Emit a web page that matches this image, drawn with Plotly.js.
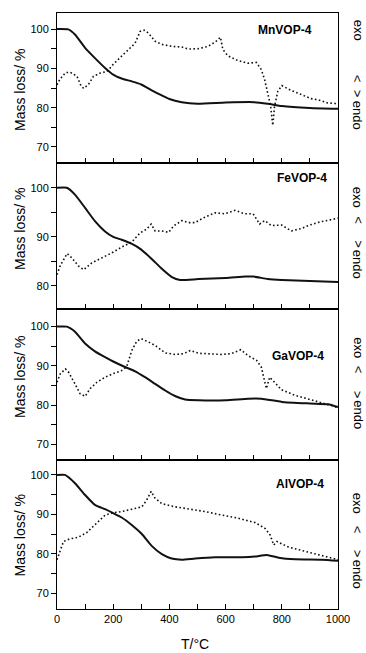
<!DOCTYPE html>
<html>
<head>
<meta charset="utf-8">
<script src="https://cdn.plot.ly/plotly-3.0.1.min.js"></script>
<style>
  html, body { margin: 0; padding: 0; background: #fff; }
  #chart { width: 366px; height: 653px; }
</style>
</head>
<body>
<div id="chart"></div>
<script>
// Thermal analysis of four metal vanadyl phosphates: TG (solid) and DTA (dotted)

const sampleNames = ["MnVOP-4", "FeVOP-4", "GaVOP-4", "AlVOP-4"];

// MnVOP-4
const mnTgT  = [0, 40, 64, 100, 135, 171, 200, 230, 265, 300, 337, 373, 400, 444, 500, 600, 700, 750, 800, 900, 1000];
const mnTg   = [100, 99.9, 98.6, 95.2, 92.6, 90.1, 88.4, 87.4, 86.7, 85.9, 84.4, 83.1, 82.2, 81.4, 81.0, 81.3, 81.4, 81.0, 80.4, 79.9, 79.7];
const mnDtaT = [0, 10, 30, 47, 71, 85, 95, 112, 130, 154, 178, 200, 230, 254, 278, 296, 310, 325, 349, 373, 409, 444, 468, 504, 538, 565, 582, 590, 608, 643, 679, 709, 727, 739, 751, 760, 768, 774, 786, 800, 833, 869, 904, 934, 963, 987, 1000];
const mnDta  = [85.8, 87.2, 88.9, 89.0, 88.0, 85.6, 84.9, 85.9, 88.0, 88.8, 89.2, 91.0, 93.1, 94.8, 96.4, 99.4, 99.7, 99.0, 96.9, 96.1, 95.6, 95.4, 94.9, 95.0, 95.6, 96.8, 97.9, 94.8, 93.2, 92.0, 91.3, 91.5, 89.7, 87.1, 83.5, 80.5, 75.5, 80.3, 84.2, 85.6, 84.4, 83.3, 82.3, 81.9, 81.2, 81.1, 80.9];

// FeVOP-4
const feTgT  = [0, 35, 64, 100, 135, 171, 200, 230, 265, 300, 337, 373, 409, 438, 504, 600, 671, 700, 750, 800, 900, 1000];
const feTg   = [100, 100, 98.6, 95.9, 93.2, 91.1, 90.0, 89.4, 88.6, 87.4, 85.5, 83.5, 81.8, 81.2, 81.4, 81.6, 81.9, 81.9, 81.4, 81.2, 81.0, 80.8];
const feDtaT = [0, 12, 36, 53, 77, 95, 124, 159, 194, 230, 265, 296, 320, 335, 349, 373, 397, 415, 444, 468, 491, 526, 562, 597, 633, 668, 698, 721, 739, 763, 799, 834, 870, 899, 940, 976, 1000];
const feDta  = [82.3, 84.2, 86.6, 85.7, 84.0, 83.3, 84.7, 85.7, 86.7, 87.9, 88.9, 90.8, 91.6, 92.6, 91.2, 91.2, 90.9, 92.2, 93.3, 92.9, 92.9, 94.0, 94.9, 94.7, 95.4, 94.7, 94.7, 92.6, 93.3, 92.3, 92.4, 91.2, 91.7, 92.4, 93.1, 93.5, 93.8];

// GaVOP-4
const gaTgT  = [0, 35, 64, 100, 135, 171, 200, 242, 278, 313, 349, 385, 420, 456, 504, 600, 680, 727, 800, 900, 965, 1000];
const gaTg   = [100, 100, 98.7, 95.7, 93.7, 92.2, 91.1, 89.7, 88.6, 87.1, 85.4, 83.7, 82.3, 81.4, 81.2, 81.2, 81.6, 81.6, 80.8, 80.4, 80.2, 79.5];
const gaDtaT = [0, 12, 30, 41, 64, 82, 100, 118, 142, 171, 200, 230, 248, 266, 284, 300, 325, 349, 385, 420, 450, 474, 504, 538, 585, 620, 654, 680, 710, 727, 739, 745, 757, 775, 799, 846, 893, 929, 965, 1000];
const gaDta  = [85.8, 88.0, 89.2, 88.4, 85.4, 82.9, 82.2, 84.2, 85.8, 87.1, 88.0, 88.8, 89.8, 93.9, 96.3, 96.9, 96.1, 95.2, 93.3, 92.9, 93.1, 93.9, 93.2, 93.1, 92.9, 93.1, 94.1, 92.6, 91.4, 89.7, 86.3, 84.2, 87.1, 85.8, 83.9, 82.5, 81.6, 80.8, 80.1, 79.3];

// AlVOP-4
const alTgT  = [0, 28, 64, 100, 135, 171, 200, 230, 266, 302, 337, 373, 408, 444, 492, 563, 658, 705, 747, 789, 848, 943, 1000];
const alTg   = [100, 100, 97.9, 94.9, 92.4, 91.3, 90.3, 89.2, 87.3, 85.0, 82.0, 79.9, 78.8, 78.5, 78.8, 79.1, 79.1, 79.3, 79.7, 79.0, 78.6, 78.5, 78.2];
const alDtaT = [0, 11, 23, 46, 76, 106, 135, 171, 200, 230, 266, 302, 319, 335, 349, 373, 420, 468, 527, 587, 646, 705, 741, 759, 771, 783, 824, 884, 943, 1000];
const alDta  = [78.5, 81.0, 83.1, 83.8, 84.2, 85.4, 87.3, 89.8, 90.4, 90.7, 91.3, 91.9, 93.6, 95.8, 94.1, 92.7, 91.9, 91.4, 90.7, 89.8, 89.0, 87.9, 86.4, 84.7, 82.2, 83.1, 81.7, 80.6, 79.5, 78.5];

// Axis ticks
const tempTicks  = [0, 100, 200, 300, 400, 500, 600, 700, 800, 900, 1000];
const tempLabels = ["0", "", "200", "", "400", "", "600", "", "800", "", "1000"];
const massTicks  = [70, 75, 80, 85, 90, 95, 100];
const massLabels = ["70", "", "80", "", "90", "", "100"];

const yAxisTitle = "Mass loss/ %";
const xAxisTitle = "T/\u00b0C";
// Right-hand heat-flow direction marker, drawn piece by piece
const heatParts = ["exo", "<", ">", "endo"];

const tgSeries  = [[mnTgT, mnTg], [feTgT, feTg], [gaTgT, gaTg], [alTgT, alTg]];
const dtaSeries = [[mnDtaT, mnDta], [feDtaT, feDta], [gaDtaT, gaDta], [alDtaT, alDta]];

// Layout geometry for the stacked panels (top to bottom)
const H = 653, MT = 13, MB = 44, PLOT_H = H - MT - MB;
const pxToPaperY = py => (H - MB - py) / PLOT_H;
const domains  = [[0.7488, 1], [0.5034, 0.7488], [0.2495, 0.5034], [0, 0.2495]];
const yRanges  = [[66, 104.07], [75.3, 105.1], [65.9, 104.5], [66, 103.7]];
const nameXY   = [[0.811, 0.9715], [0.872, 0.7232], [0.856, 0.4245], [0.865, 0.2097]];
const titlePx  = [90, 229, 377, 535.5];
// vertical centres (px) of "exo", "<", ">", "endo" in each panel
const heatPx   = [[30, 79, 94, 115], [197, 220.5, 244.5, 264], [347.5, 370, 395, 414.5], [503, 530, 554, 574]];

const FONT = "Liberation Sans, Arial, Helvetica, sans-serif";

const traces = [];
const layout = {
  width: 366, height: 653,
  margin: { l: 57, r: 28, t: MT, b: MB },
  paper_bgcolor: "#fff", plot_bgcolor: "#fff",
  showlegend: false,
  font: { family: FONT, color: "#000", size: 11 },
  annotations: []
};

for (let i = 0; i < 4; i++) {
  const k = i + 1;
  const xa = "x" + k, ya = "y" + k;
  traces.push({
    x: tgSeries[i][0], y: tgSeries[i][1], xaxis: xa, yaxis: ya,
    type: "scatter", mode: "lines",
    line: { color: "#111", width: 2, shape: "spline", smoothing: 0.5 },
    hoverinfo: "skip"
  });
  traces.push({
    x: dtaSeries[i][0], y: dtaSeries[i][1], xaxis: xa, yaxis: ya,
    type: "scatter", mode: "lines",
    line: { color: "#111", width: 1.6, dash: "1.6px,2.4px" },
    hoverinfo: "skip"
  });

  const lo = yRanges[i][0], hi = yRanges[i][1];
  const tv = [], tt = [];
  massTicks.forEach((v, j) => { if (v >= lo && v <= hi) { tv.push(v); tt.push(massLabels[j]); } });

  layout["xaxis" + k] = {
    domain: [0, 1], anchor: ya, range: [0, 1000],
    showline: true, mirror: true, linecolor: "#000", linewidth: 1,
    ticks: "inside", ticklen: 5, tickwidth: 1, tickcolor: "#000",
    tickvals: tempTicks, ticktext: tempLabels,
    showticklabels: i === 3,
    tickfont: { size: 11, family: FONT, color: "#000" },
    showgrid: false, zeroline: false, fixedrange: true
  };
  layout["yaxis" + k] = {
    domain: domains[i], anchor: xa, range: yRanges[i],
    showline: true, mirror: true, linecolor: "#000", linewidth: 1,
    ticks: "outside", ticklen: 5, tickwidth: 1, tickcolor: "#000",
    tickvals: tv, ticktext: tt,
    tickfont: { size: 11, family: FONT, color: "#000" },
    showgrid: false, zeroline: false, fixedrange: true
  };

  layout.annotations.push({
    xref: "paper", yref: "paper", x: nameXY[i][0], y: nameXY[i][1],
    text: "<b>" + sampleNames[i] + "</b>", showarrow: false,
    xanchor: "center", yanchor: "middle",
    font: { size: 12, family: FONT, color: "#000" }
  });
  layout.annotations.push({
    xref: "paper", yref: "paper", x: -0.1317, y: pxToPaperY(titlePx[i]),
    text: yAxisTitle, showarrow: false, textangle: -90,
    xanchor: "center", yanchor: "middle",
    font: { size: 14, family: FONT, color: "#000" }
  });
  heatParts.forEach((part, j) => {
    layout.annotations.push({
      xref: "paper", yref: "paper", x: 1.072, y: pxToPaperY(heatPx[i][j]),
      text: part, showarrow: false, textangle: 90,
      xanchor: "center", yanchor: "middle",
      font: { size: 13, family: FONT, color: "#000" }
    });
  });
}

layout.annotations.push({
  xref: "paper", yref: "paper", x: 0.4915, y: pxToPaperY(644.5),
  text: xAxisTitle, showarrow: false,
  xanchor: "center", yanchor: "middle",
  font: { size: 14, family: FONT, color: "#000" }
});

Plotly.newPlot("chart", traces, layout, { displayModeBar: false, staticPlot: true });
</script>
</body>
</html>
